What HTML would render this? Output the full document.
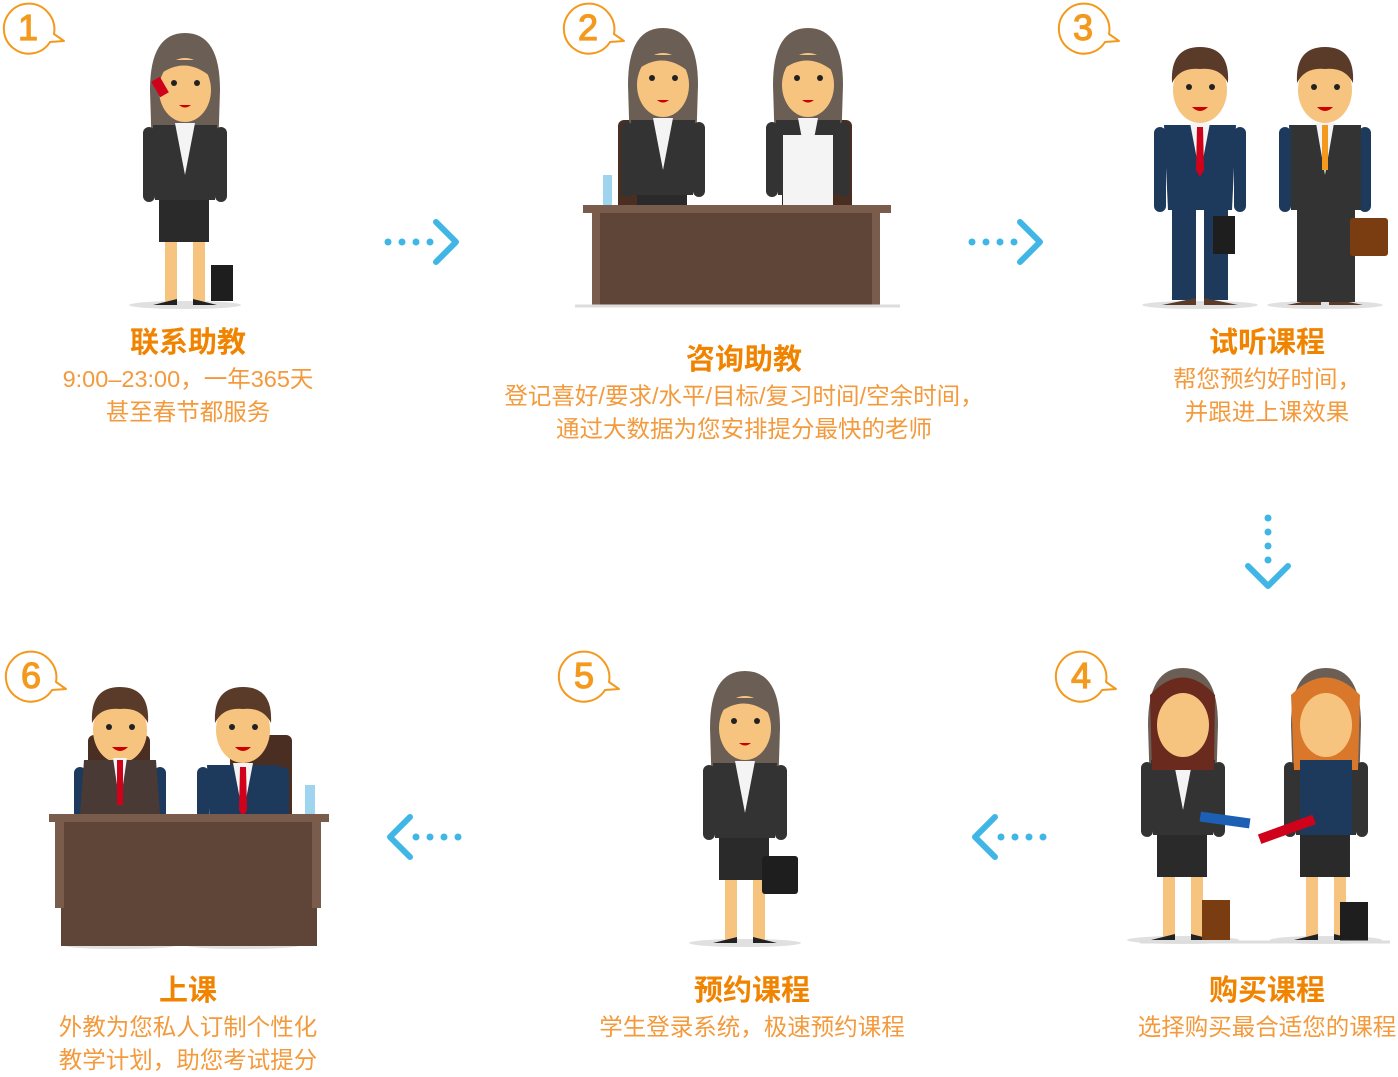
<!DOCTYPE html>
<html><head><meta charset="utf-8"><style>
body{margin:0;width:1398px;height:1073px;background:#fff;overflow:hidden;position:relative;font-family:"Liberation Sans","Noto Sans CJK SC",sans-serif}
.t{position:absolute;text-align:center;color:#f08300;font-weight:bold;font-size:29px;line-height:32px;white-space:nowrap}
.s{position:absolute;text-align:center;color:#f39a3c;font-size:23.5px;line-height:33px;white-space:nowrap}
svg{position:absolute;left:0;top:0}
</style></head><body>
<svg width="1398" height="1073" viewBox="0 0 1398 1073">
<defs>
<g id="badge"><path d="M45.5,10 A25,25 0 1 0 48,40 L62,39 L52,32 A25,25 0 0 0 45.5,10" fill="#fff" stroke="#f39a1e" stroke-width="2" stroke-linejoin="round"/></g>
<g id="woman">
<ellipse cx="0" cy="0" rx="56" ry="4" fill="#e0e0e0"/>
<path d="M-35,-215 Q-35,-272 0,-272 Q35,-272 35,-215 L33,-150 L-33,-150Z" fill="#6b5f55"/>
<ellipse cx="0" cy="-215" rx="26" ry="32" fill="#f7c47f"/>
<path d="M-26,-230 Q0,-250 26,-228 L26,-245 L-26,-245Z" fill="#6b5f55"/>
<circle cx="-11" cy="-222" r="3" fill="#222"/><circle cx="12" cy="-222" r="3" fill="#222"/>
<path d="M-6,-200 Q0,-195 6,-200Z" fill="#c00"/>
<path d="M-32,-180 L32,-180 L30,-105 L-30,-105Z" fill="#333"/>
<path d="M-10,-182 L10,-182 L0,-130Z" fill="#f4f4f4"/>
<rect x="-42" y="-178" width="12" height="75" rx="6" fill="#333"/>
<rect x="30" y="-178" width="12" height="75" rx="6" fill="#333"/>
<rect x="-26" y="-105" width="50" height="42" fill="#2a2a2a"/>
<rect x="-20" y="-63" width="12" height="60" fill="#f7c47f"/>
<rect x="8" y="-63" width="12" height="60" fill="#f7c47f"/>
<path d="M-32,0 L-8,-6 L-8,0Z M8,-6 L32,0 L8,0Z" fill="#222"/>
</g>
<g id="man">
<ellipse cx="0" cy="0" rx="58" ry="4" fill="#e0e0e0"/>
<ellipse cx="0" cy="-215" rx="27" ry="33" fill="#f7c47f"/>
<path d="M-28,-222 Q-30,-258 0,-258 Q30,-258 28,-222 Q20,-238 0,-236 Q-20,-238 -28,-222Z" fill="#5a3a28"/>
<circle cx="-11" cy="-218" r="3" fill="#222"/><circle cx="12" cy="-218" r="3" fill="#222"/>
<path d="M-8,-198 Q0,-190 8,-198Z" fill="#c00"/>
<path d="M-36,-180 L36,-180 L32,-95 L-32,-95Z" fill="#1d3a5c"/>
<path d="M-10,-182 L10,-182 L0,-130Z" fill="#f4f4f4"/>
<path d="M-3,-178 L3,-178 L4,-135 L0,-128 L-4,-135Z" fill="#d0021b"/>
<rect x="-46" y="-178" width="12" height="85" rx="6" fill="#1d3a5c"/>
<rect x="34" y="-178" width="12" height="85" rx="6" fill="#1d3a5c"/>
<rect x="-28" y="-95" width="24" height="90" fill="#1d3a5c"/>
<rect x="4" y="-95" width="24" height="90" fill="#1d3a5c"/>
<path d="M-38,0 L-4,-7 L-4,0Z M4,-7 L38,0 L4,0Z" fill="#5a3a28"/>
</g>
<g id="arr" fill="#3fb6e6"><circle cx="0" cy="0" r="3.5"/><circle cx="14" cy="0" r="3.5"/><circle cx="28" cy="0" r="3.5"/><circle cx="42" cy="0" r="3.5"/><path d="M48,-20 L68,0 L48,20" fill="none" stroke="#3fb6e6" stroke-width="6" stroke-linecap="round" stroke-linejoin="round"/></g>
</defs>
<use href="#badge" x="2" y="2"/><use href="#badge" x="562" y="2"/><use href="#badge" x="1057" y="2"/>
<use href="#badge" x="1054" y="650"/><use href="#badge" x="557" y="650"/><use href="#badge" x="4" y="650"/>
<g fill="#f39a1e" font-size="36" font-family="Liberation Sans" text-anchor="middle" stroke="#f39a1e" stroke-width="1.2">
<text x="28" y="40">1</text><text x="588" y="40">2</text><text x="1083" y="40">3</text>
<text x="1081" y="688">4</text><text x="584" y="688">5</text><text x="31" y="688">6</text></g>
<use href="#arr" x="388" y="242"/><use href="#arr" x="972" y="242"/>
<use href="#arr" transform="translate(458,837) scale(-1,1)"/><use href="#arr" transform="translate(1043,837) scale(-1,1)"/>
<use href="#arr" transform="translate(1268,518) rotate(90)"/>
<use href="#woman" x="185" y="305"/>
<rect x="211" y="265" width="22" height="36" fill="#1e1e1e"/>
<rect x="155" y="78" width="10" height="18" fill="#d0021b" transform="rotate(-30 160 87)"/>
<rect x="618" y="120" width="30" height="110" rx="6" fill="#4a2e22"/><rect x="822" y="120" width="30" height="110" rx="6" fill="#4a2e22"/>
<use href="#woman" x="663" y="300"/><use href="#woman" x="808" y="300"/>
<rect x="783" y="135" width="50" height="70" fill="#f4f4f4"/>
<rect x="603" y="175" width="9" height="32" fill="#9fd4ee"/>
<rect x="583" y="205" width="308" height="8" fill="#7a5c4d"/>
<rect x="598" y="213" width="280" height="92" fill="#5e4538"/>
<rect x="592" y="213" width="8" height="92" fill="#7a5c4d"/><rect x="872" y="213" width="8" height="92" fill="#7a5c4d"/>
<line x1="575" y1="306" x2="900" y2="306" stroke="#ddd" stroke-width="3"/>
<use href="#man" x="1200" y="305"/><use href="#man" x="1325" y="305"/>
<rect x="1291" y="125" width="70" height="85" fill="#333"/><rect x="1297" y="210" width="58" height="92" fill="#333"/>
<path d="M1316,123 L1334,123 L1325,175Z" fill="#f4f4f4"/><rect x="1322" y="125" width="6" height="45" fill="#f39a1e"/>
<rect x="1213" y="216" width="22" height="38" fill="#1e1e1e"/><rect x="1350" y="218" width="38" height="38" rx="3" fill="#7a3d12"/>
<use href="#woman" x="1183" y="940"/><use href="#woman" x="1326" y="940"/>
<path d="M1291,695 Q1326,660 1360,695 L1358,770 L1294,770Z" fill="#d9782b"/>
<path d="M1150,695 Q1183,660 1215,695 L1214,770 L1152,770Z" fill="#6a2a1e"/>
<ellipse cx="1326" cy="725" rx="26" ry="32" fill="#f7c47f"/><ellipse cx="1183" cy="725" rx="26" ry="32" fill="#f7c47f"/>
<rect x="1300" y="760" width="52" height="75" fill="#1d3a5c"/>
<rect x="1200" y="815" width="50" height="10" fill="#1c5fb5" transform="rotate(8 1225 820)"/>
<rect x="1258" y="825" width="58" height="10" fill="#d0021b" transform="rotate(-20 1285 830)"/>
<rect x="1202" y="900" width="28" height="40" fill="#7a3d12"/><rect x="1340" y="902" width="28" height="40" fill="#1e1e1e"/>
<line x1="1140" y1="942" x2="1390" y2="942" stroke="#ddd" stroke-width="3"/>
<use href="#woman" x="745" y="943"/>
<rect x="762" y="856" width="36" height="38" rx="3" fill="#1e1e1e"/>
<rect x="88" y="735" width="62" height="90" rx="6" fill="#4a2e22"/><rect x="230" y="735" width="62" height="90" rx="6" fill="#4a2e22"/>
<use href="#man" x="120" y="945"/><use href="#man" x="243" y="945"/>
<path d="M84,760 L156,760 L160,815 L80,815Z" fill="#4a3a35"/>
<path d="M113,758 L127,758 L120,805Z" fill="#f4f4f4"/><rect x="117" y="760" width="6" height="45" fill="#d0021b"/>
<rect x="305" y="785" width="10" height="32" fill="#9fd4ee"/>
<rect x="49" y="814" width="280" height="8" fill="#7a5c4d"/>
<rect x="61" y="822" width="256" height="124" fill="#5e4538"/>
<rect x="55" y="822" width="9" height="86" fill="#7a5c4d"/><rect x="312" y="822" width="9" height="86" fill="#7a5c4d"/>
</svg>
<div class="t" style="left:88px;top:327px;width:200px">联系助教</div>
<div class="s" style="left:0px;top:363px;width:376px">9:00–23:00，一年365天<br>甚至春节都服务</div>
<div class="t" style="left:594px;top:344px;width:300px">咨询助教</div>
<div class="s" style="left:436px;top:380px;width:616px">登记喜好/要求/水平/目标/复习时间/空余时间，<br>通过大数据为您安排提分最快的老师</div>
<div class="t" style="left:1167px;top:327px;width:200px">试听课程</div>
<div class="s" style="left:1137px;top:363px;width:260px">帮您预约好时间，<br>并跟进上课效果</div>
<div class="t" style="left:1167px;top:975px;width:200px">购买课程</div>
<div class="s" style="left:1117px;top:1011px;width:300px">选择购买最合适您的课程</div>
<div class="t" style="left:652px;top:975px;width:200px">预约课程</div>
<div class="s" style="left:552px;top:1011px;width:400px">学生登录系统，极速预约课程</div>
<div class="t" style="left:88px;top:975px;width:200px">上课</div>
<div class="s" style="left:18px;top:1011px;width:340px">外教为您私人订制个性化<br>教学计划，助您考试提分</div>
</body></html>
